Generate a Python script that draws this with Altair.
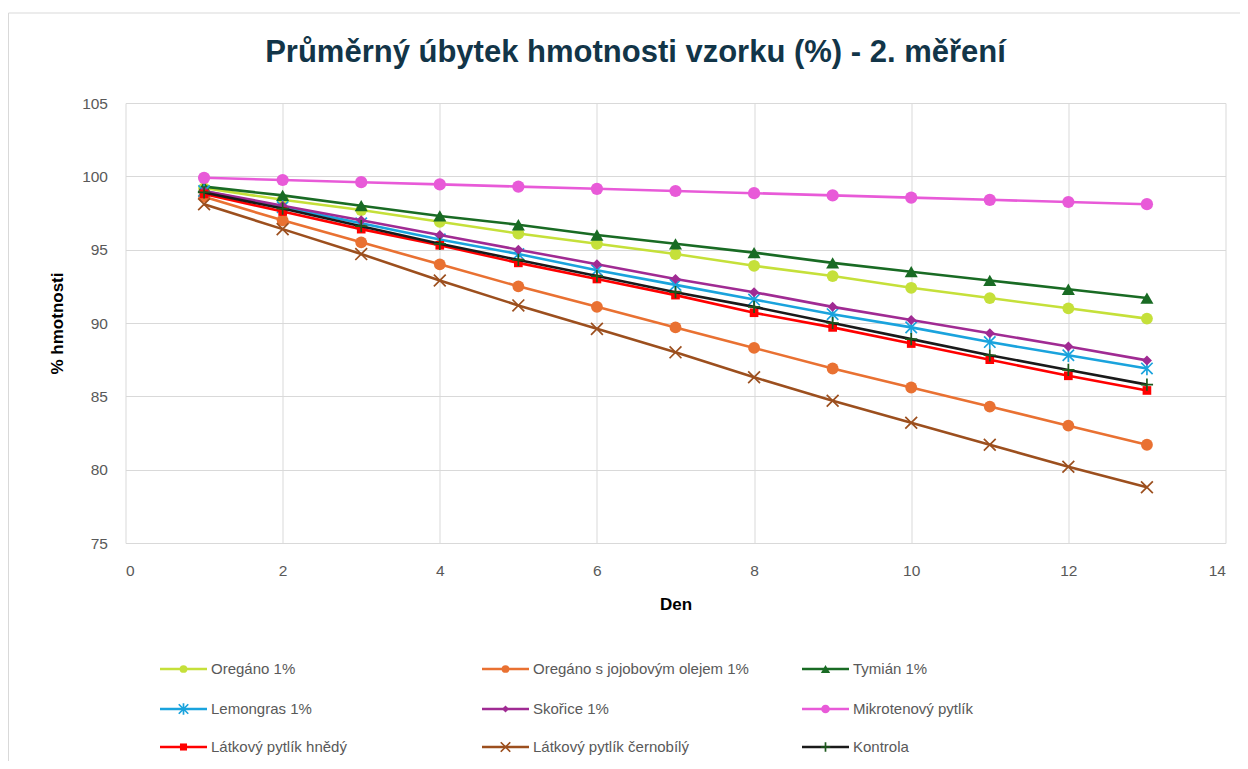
import altair as alt
import pandas as pd

# ---------------- data ----------------
den = list(range(1, 14))

series_names = [
    "Oregáno 1%",
    "Oregáno s jojobovým olejem 1%",
    "Tymián 1%",
    "Lemongras 1%",
    "Skořice 1%",
    "Mikrotenový pytlík",
    "Látkový pytlík hnědý",
    "Látkový pytlík černobílý",
    "Kontrola",
]

oregano = [99.2, 98.4, 97.7, 96.9, 96.1, 95.4, 94.7, 93.9, 93.2, 92.4, 91.7, 91.0, 90.3]
oregano_jojoba = [98.6, 97.0, 95.5, 94.0, 92.5, 91.1, 89.7, 88.3, 86.9, 85.6, 84.3, 83.0, 81.7]
tymian = [99.3, 98.7, 98.0, 97.3, 96.7, 96.0, 95.4, 94.8, 94.1, 93.5, 92.9, 92.3, 91.7]
lemongras = [99.0, 97.9, 96.8, 95.7, 94.7, 93.6, 92.6, 91.6, 90.6, 89.7, 88.7, 87.8, 86.9]
skorice = [99.0, 98.0, 97.0, 96.0, 95.0, 94.0, 93.0, 92.1, 91.1, 90.2, 89.3, 88.4, 87.45]
mikroten = [99.9, 99.75, 99.6, 99.45, 99.3, 99.15, 99.0, 98.85, 98.7, 98.55, 98.4, 98.25, 98.1]
latkovy_hnedy = [98.8, 97.6, 96.4, 95.3, 94.1, 93.0, 91.9, 90.7, 89.7, 88.6, 87.5, 86.4, 85.4]
latkovy_cernobily = [98.1, 96.4, 94.7, 92.9, 91.2, 89.6, 88.0, 86.3, 84.7, 83.2, 81.7, 80.2, 78.8]
kontrola = [98.9, 97.8, 96.6, 95.4, 94.3, 93.2, 92.1, 91.1, 90.0, 88.9, 87.8, 86.8, 85.8]

series_values = [oregano, oregano_jojoba, tymian, lemongras, skorice, mikroten,
                 latkovy_hnedy, latkovy_cernobily, kontrola]

x_ticks = [0, 2, 4, 6, 8, 10, 12, 14]
y_ticks = [75, 80, 85, 90, 95, 100, 105]

# ---------------- styles ----------------
ASTERISK = "M-1,-1L1,1M-1,1L1,-1M0,-1.2L0,1.2"
XCROSS = "M-1,-1L1,1M-1,1L1,-1"
PLUS = "M0,-1L0,1M-1,0L1,0"

styles = [
    dict(line="#c5e03a", mark="#c5e03a", shape="circle", filled=True, size=140, lsize=60, sw=1),
    dict(line="#e97132", mark="#e97132", shape="circle", filled=True, size=140, lsize=60, sw=1),
    dict(line="#196b24", mark="#196b24", shape="triangle-up", filled=True, size=170, lsize=85, sw=1),
    dict(line="#1aa3dd", mark="#1aa3dd", shape=ASTERISK, filled=False, size=130, lsize=90, sw=1.7),
    dict(line="#a02b93", mark="#a02b93", shape="diamond", filled=True, size=100, lsize=50, sw=1),
    dict(line="#e85ad8", mark="#e85ad8", shape="circle", filled=True, size=150, lsize=75, sw=1),
    dict(line="#ff0000", mark="#ff0000", shape="square", filled=True, size=75, lsize=50, sw=1),
    dict(line="#9c4f1e", mark="#9c4f1e", shape=XCROSS, filled=False, size=140, lsize=90, sw=1.7),
    dict(line="#1a1a1a", mark="#1d5a1d", shape=PLUS, filled=False, size=150, lsize=90, sw=1.7),
]

# legend layout (pixels relative to plot origin)
legend_cols_x = [34.5, 356.5, 676.5]
legend_rows_y = [566, 606, 644]

FONT = "Liberation Sans"

x_enc = alt.X(
    "den:Q",
    scale=alt.Scale(domain=[0, 14], nice=False, zero=False),
    axis=alt.Axis(values=x_ticks, title="Den", labelPadding=20,
                  titleX=550, titleY=61, titleBaseline="middle"),
)
y_enc = alt.Y(
    "hodnota:Q",
    scale=alt.Scale(domain=[75, 105], nice=False, zero=False),
    axis=alt.Axis(values=y_ticks, title="% hmotnosti", labelPadding=18,
                  titleX=-68, titleY=220, titleAngle=-90, titleAlign="center",
                  titleBaseline="middle"),
)

layers = []

# outer chart border (like the spreadsheet chart area)
frame = alt.Chart(pd.DataFrame({"k": [0]})).mark_rect(
    fill="white", fillOpacity=0, stroke="#d9d9d9", strokeWidth=1
).encode(x=alt.value(-117), x2=alt.value(1200), y=alt.value(-90), y2=alt.value(720))
layers.append(frame)

for i, (name, vals, st) in enumerate(zip(series_names, series_values, styles)):
    df = pd.DataFrame({"den": den, "hodnota": vals, "serie": name})
    line = alt.Chart(df).mark_line(color=st["line"], strokeWidth=2.6).encode(x=x_enc, y=y_enc)
    pts = alt.Chart(df).mark_point(
        shape=st["shape"], filled=st["filled"], color=st["mark"], size=st["size"],
        strokeWidth=st["sw"], opacity=1
    ).encode(x=x_enc, y=y_enc)
    layers += [line, pts]

# manual legend
for i, (name, st) in enumerate(zip(series_names, styles)):
    lx = legend_cols_x[i % 3]
    ly = legend_rows_y[i // 3]
    ldf = pd.DataFrame({"serie": [name]})
    rule = alt.Chart(ldf).mark_rule(color=st["line"], strokeWidth=2.6).encode(
        x=alt.value(lx), x2=alt.value(lx + 47), y=alt.value(ly))
    sym = alt.Chart(ldf).mark_point(
        shape=st["shape"], filled=st["filled"], color=st["mark"], size=st["lsize"],
        strokeWidth=st["sw"], opacity=1
    ).encode(x=alt.value(lx + 23.5), y=alt.value(ly))
    txt = alt.Chart(ldf).mark_text(
        align="left", baseline="middle", fontSize=15, color="#595959", font=FONT
    ).encode(x=alt.value(lx + 51), y=alt.value(ly), text="serie:N")
    layers += [rule, sym, txt]

chart = alt.layer(*layers).properties(
    width=1100,
    height=440,
    background="white",
    autosize=alt.AutoSizeParams(type="none"),
    padding={"left": 117.5, "top": 95, "right": 14.5, "bottom": 218},
    title=alt.Title(
        "Průměrný úbytek hmotnosti vzorku (%) - 2. měření",
        fontSize=31, font=FONT, fontWeight="bold", color="#123548",
        anchor="middle", frame="group", dx=-40, offset=0, dy=56,
    ),
).configure_view(stroke=None).configure_axis(
    grid=True, gridColor="#d9d9d9", gridWidth=1, domain=False, ticks=False,
    labelColor="#595959", labelFontSize=15.5, labelFont=FONT,
    titleFont=FONT, titleFontSize=17, titleFontWeight="bold", titleColor="#000000",
)

chart.save("out.html", embed_options={"renderer": "svg", "actions": False})
